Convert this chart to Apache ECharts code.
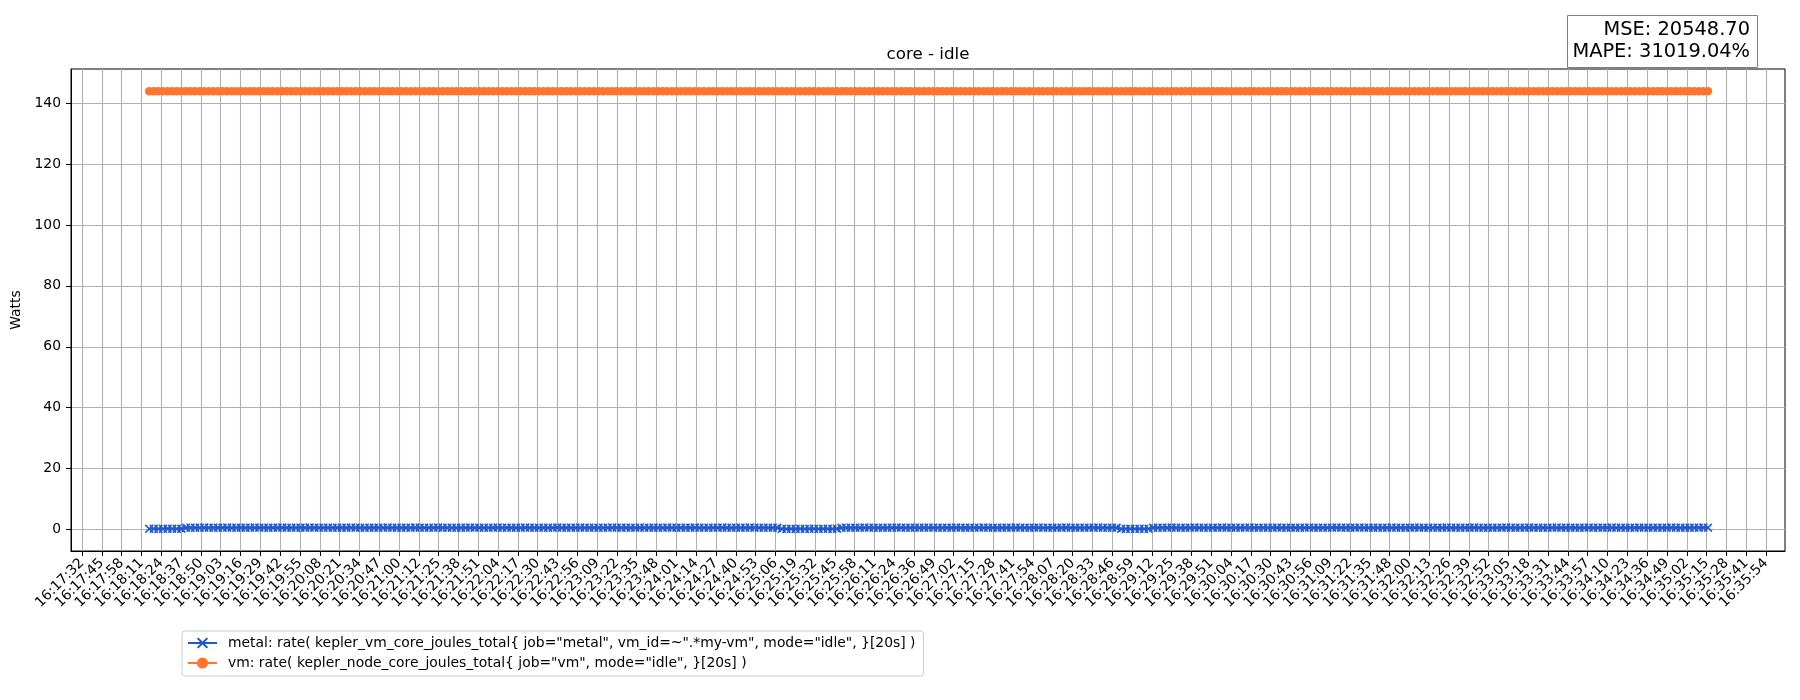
<!DOCTYPE html>
<html>
<head>
<meta charset="utf-8">
<title>core - idle</title>
<script src="https://cdn.jsdelivr.net/npm/echarts@6/dist/echarts.min.js"></script>
<style>
  html, body { margin: 0; padding: 0; background: #fff; }
  #chart { width: 1800px; height: 700px; }
</style>
</head>
<body>
<div id="chart"></div>
<script>
// tick labels along the time axis (evenly spaced)
const tickLabels = [
  '16:17:32','16:17:45','16:17:58','16:18:11','16:18:24','16:18:37','16:18:50','16:19:03','16:19:16','16:19:29',
  '16:19:42','16:19:55','16:20:08','16:20:21','16:20:34','16:20:47','16:21:00','16:21:12','16:21:25','16:21:38',
  '16:21:51','16:22:04','16:22:17','16:22:30','16:22:43','16:22:56','16:23:09','16:23:22','16:23:35','16:23:48',
  '16:24:01','16:24:14','16:24:27','16:24:40','16:24:53','16:25:06','16:25:19','16:25:32','16:25:45','16:25:58',
  '16:26:11','16:26:24','16:26:36','16:26:49','16:27:02','16:27:15','16:27:28','16:27:41','16:27:54','16:28:07',
  '16:28:20','16:28:33','16:28:46','16:28:59','16:29:12','16:29:25','16:29:38','16:29:51','16:30:04','16:30:17',
  '16:30:30','16:30:43','16:30:56','16:31:09','16:31:22','16:31:35','16:31:48','16:32:00','16:32:13','16:32:26',
  '16:32:39','16:32:52','16:33:05','16:33:18','16:33:31','16:33:44','16:33:57','16:34:10','16:34:23','16:34:36',
  '16:34:49','16:35:02','16:35:15','16:35:28','16:35:41','16:35:54'
];
const yTicks = [0, 20, 40, 60, 80, 100, 120, 140];

// samples: first sample time and sampling step (seconds)
const sampleStart = '16:18:16';
const sampleStep = 3;

const metalWatts = [
  0.21, 0.23, 0.2, 0.22, 0.24, 0.21, 0.23, 0.25, 0.58, 0.61, 0.6, 0.59, 0.62, 0.6, 0.61, 0.59, 0.6, 0.62, 0.61, 0.6,
  0.59, 0.61, 0.6, 0.62, 0.6, 0.59, 0.61, 0.6, 0.6, 0.62, 0.61, 0.59, 0.6, 0.61, 0.6, 0.62, 0.6, 0.59, 0.61, 0.6,
  0.61, 0.6, 0.59, 0.6, 0.62, 0.61, 0.6, 0.59, 0.61, 0.6, 0.6, 0.61, 0.62, 0.6, 0.59, 0.6, 0.61, 0.6, 0.62, 0.61,
  0.6, 0.59, 0.61, 0.62, 0.6, 0.6, 0.61, 0.59, 0.6, 0.61, 0.62, 0.6, 0.59, 0.61, 0.6, 0.6, 0.62, 0.61, 0.6, 0.59,
  0.61, 0.6, 0.62, 0.6, 0.59, 0.61, 0.6, 0.61, 0.6, 0.62, 0.59, 0.6, 0.61, 0.6, 0.62, 0.6, 0.61, 0.59, 0.6, 0.61,
  0.6, 0.62, 0.61, 0.6, 0.59, 0.6, 0.61, 0.62, 0.6, 0.59, 0.61, 0.6, 0.6, 0.62, 0.61, 0.59, 0.6, 0.61, 0.6, 0.62,
  0.61, 0.6, 0.59, 0.61, 0.6, 0.62, 0.6, 0.61, 0.59, 0.6, 0.61, 0.62, 0.6, 0.6, 0.59, 0.61, 0.6, 0.58, 0.21, 0.2,
  0.22, 0.19, 0.21, 0.2, 0.23, 0.21, 0.2, 0.22, 0.21, 0.2, 0.24, 0.58, 0.6, 0.61, 0.6, 0.59, 0.62, 0.6, 0.61, 0.6,
  0.59, 0.61, 0.6, 0.62, 0.6, 0.61, 0.59, 0.6, 0.61, 0.6, 0.62, 0.6, 0.59, 0.61, 0.6, 0.6, 0.62, 0.61, 0.6, 0.59,
  0.6, 0.61, 0.62, 0.6, 0.59, 0.61, 0.6, 0.61, 0.6, 0.62, 0.59, 0.6, 0.61, 0.6, 0.62, 0.61, 0.6, 0.59, 0.61, 0.6,
  0.62, 0.6, 0.61, 0.59, 0.6, 0.61, 0.6, 0.62, 0.6, 0.61, 0.59, 0.57, 0.22, 0.2, 0.21, 0.19, 0.22, 0.2, 0.23, 0.58,
  0.6, 0.61, 0.6, 0.62, 0.59, 0.6, 0.61, 0.6, 0.62, 0.6, 0.61, 0.59, 0.6, 0.61, 0.62, 0.6, 0.59, 0.61, 0.6, 0.6,
  0.62, 0.61, 0.6, 0.59, 0.61, 0.6, 0.62, 0.6, 0.61, 0.59, 0.6, 0.61, 0.6, 0.62, 0.6, 0.59, 0.61, 0.6, 0.61, 0.62,
  0.6, 0.59, 0.6, 0.61, 0.62, 0.6, 0.61, 0.6, 0.59, 0.61, 0.6, 0.62, 0.6, 0.61, 0.59, 0.6, 0.62, 0.61, 0.6, 0.59,
  0.61, 0.6, 0.6, 0.62, 0.61, 0.59, 0.6, 0.61, 0.6, 0.62, 0.6, 0.61, 0.59, 0.6, 0.61, 0.6, 0.62, 0.6, 0.59, 0.61,
  0.6, 0.62, 0.61, 0.6, 0.59, 0.6, 0.61, 0.62, 0.6, 0.59, 0.61, 0.6, 0.61, 0.6, 0.62, 0.59, 0.6, 0.61, 0.6, 0.62,
  0.61, 0.6, 0.59, 0.61, 0.6, 0.62, 0.6, 0.61, 0.59, 0.6, 0.61, 0.6, 0.62, 0.6, 0.59, 0.61, 0.6, 0.61, 0.6, 0.62,
  0.6
];

const vmWatts = [
  143.9, 143.9, 143.9, 143.9, 143.9, 143.9, 143.9, 143.9, 143.9, 143.9, 143.9, 143.9, 143.9, 143.9, 143.9, 143.9, 143.9, 143.9, 143.9, 143.9,
  143.9, 143.9, 143.9, 143.9, 143.9, 143.9, 143.9, 143.9, 143.9, 143.9, 143.9, 143.9, 143.9, 143.9, 143.9, 143.9, 143.9, 143.9, 143.9, 143.9,
  143.9, 143.9, 143.9, 143.9, 143.9, 143.9, 143.9, 143.9, 143.9, 143.9, 143.9, 143.9, 143.9, 143.9, 143.9, 143.9, 143.9, 143.9, 143.9, 143.9,
  143.9, 143.9, 143.9, 143.9, 143.9, 143.9, 143.9, 143.9, 143.9, 143.9, 143.9, 143.9, 143.9, 143.9, 143.9, 143.9, 143.9, 143.9, 143.9, 143.9,
  143.9, 143.9, 143.9, 143.9, 143.9, 143.9, 143.9, 143.9, 143.9, 143.9, 143.9, 143.9, 143.9, 143.9, 143.9, 143.9, 143.9, 143.9, 143.9, 143.9,
  143.9, 143.9, 143.9, 143.9, 143.9, 143.9, 143.9, 143.9, 143.9, 143.9, 143.9, 143.9, 143.9, 143.9, 143.9, 143.9, 143.9, 143.9, 143.9, 143.9,
  143.9, 143.9, 143.9, 143.9, 143.9, 143.9, 143.9, 143.9, 143.9, 143.9, 143.9, 143.9, 143.9, 143.9, 143.9, 143.9, 143.9, 143.9, 143.9, 143.9,
  143.9, 143.9, 143.9, 143.9, 143.9, 143.9, 143.9, 143.9, 143.9, 143.9, 143.9, 143.9, 143.9, 143.9, 143.9, 143.9, 143.9, 143.9, 143.9, 143.9,
  143.9, 143.9, 143.9, 143.9, 143.9, 143.9, 143.9, 143.9, 143.9, 143.9, 143.9, 143.9, 143.9, 143.9, 143.9, 143.9, 143.9, 143.9, 143.9, 143.9,
  143.9, 143.9, 143.9, 143.9, 143.9, 143.9, 143.9, 143.9, 143.9, 143.9, 143.9, 143.9, 143.9, 143.9, 143.9, 143.9, 143.9, 143.9, 143.9, 143.9,
  143.9, 143.9, 143.9, 143.9, 143.9, 143.9, 143.9, 143.9, 143.9, 143.9, 143.9, 143.9, 143.9, 143.9, 143.9, 143.9, 143.9, 143.9, 143.9, 143.9,
  143.9, 143.9, 143.9, 143.9, 143.9, 143.9, 143.9, 143.9, 143.9, 143.9, 143.9, 143.9, 143.9, 143.9, 143.9, 143.9, 143.9, 143.9, 143.9, 143.9,
  143.9, 143.9, 143.9, 143.9, 143.9, 143.9, 143.9, 143.9, 143.9, 143.9, 143.9, 143.9, 143.9, 143.9, 143.9, 143.9, 143.9, 143.9, 143.9, 143.9,
  143.9, 143.9, 143.9, 143.9, 143.9, 143.9, 143.9, 143.9, 143.9, 143.9, 143.9, 143.9, 143.9, 143.9, 143.9, 143.9, 143.9, 143.9, 143.9, 143.9,
  143.9, 143.9, 143.9, 143.9, 143.9, 143.9, 143.9, 143.9, 143.9, 143.9, 143.9, 143.9, 143.9, 143.9, 143.9, 143.9, 143.9, 143.9, 143.9, 143.9,
  143.9, 143.9, 143.9, 143.9, 143.9, 143.9, 143.9, 143.9, 143.9, 143.9, 143.9, 143.9, 143.9, 143.9, 143.9, 143.9, 143.9, 143.9, 143.9, 143.9,
  143.9, 143.9, 143.9, 143.9, 143.9, 143.9, 143.9, 143.9, 143.9, 143.9, 143.9, 143.9, 143.9, 143.9, 143.9, 143.9, 143.9, 143.9, 143.9, 143.9,
  143.9
];

const metalName = 'metal: rate( kepler_vm_core_joules_total{ job="metal", vm_id=~".*my-vm", mode="idle", }[20s] )';
const vmName = 'vm: rate( kepler_node_core_joules_total{ job="vm", mode="idle", }[20s] )';

function toSec(s) {
  const p = s.split(':').map(Number);
  return p[0] * 3600 + p[1] * 60 + p[2];
}

const firstTick = toSec(tickLabels[0]);
const lastTick = toSec(tickLabels[tickLabels.length - 1]);
const tickStep = (lastTick - firstTick) / (tickLabels.length - 1);
const tickValues = tickLabels.map((_, i) => firstTick + i * tickStep);

const t0 = toSec(sampleStart);
const metalData = metalWatts.map((v, i) => [t0 + i * sampleStep, v]);
const vmData = vmWatts.map((v, i) => [t0 + i * sampleStep, v]);

const font = 'DejaVu Sans';
const crossPath = 'path://M0,1.3L1.3,0L5,3.7L8.7,0L10,1.3L6.3,5L10,8.7L8.7,10L5,6.3L1.3,10L0,8.7L3.7,5Z';

const chart = echarts.init(document.getElementById('chart'));

chart.setOption({
  animation: false,
  backgroundColor: '#fff',
  textStyle: { fontFamily: font },
  grid: {
    left: 71, right: 15, top: 69, bottom: 149,
    show: true, borderColor: '#000', borderWidth: 1
  },
  xAxis: {
    type: 'value',
    min: firstTick - 7.2,
    max: lastTick + 12.4,
    axisLine: { show: true, onZero: false, lineStyle: { color: '#000', width: 1 } },
    axisTick: { show: true, length: 5, lineStyle: { color: '#000' }, customValues: tickValues },
    axisLabel: {
      customValues: tickValues,
      rotate: 45,
      margin: 10,
      fontSize: 13.9,
      color: '#000',
      fontFamily: font,
      formatter: v => tickLabels[Math.round((v - firstTick) / tickStep)]
    },
    splitLine: { show: true, lineStyle: { color: '#b0b0b0', width: 1.1 } }
  },
  yAxis: {
    type: 'value',
    min: -7.06,
    max: 151.2,
    name: 'Watts',
    nameLocation: 'middle',
    nameGap: 40,
    nameTextStyle: { fontSize: 13.9, color: '#000', fontFamily: font },
    axisLine: { show: true, lineStyle: { color: '#000', width: 1 } },
    axisTick: { show: true, length: 5, lineStyle: { color: '#000' }, customValues: yTicks },
    axisLabel: { customValues: yTicks, margin: 10, fontSize: 13.9, color: '#000', fontFamily: font },
    splitLine: { show: true, lineStyle: { color: '#b0b0b0', width: 1.1 } }
  },
  legend: {
    orient: 'vertical',
    left: 182,
    top: 631,
    padding: [5, 8, 6, 5],
    itemWidth: 29,
    itemHeight: 14,
    itemGap: 6,
    borderColor: '#cccccc',
    borderWidth: 1,
    borderRadius: 3,
    backgroundColor: '#fff',
    textStyle: { fontSize: 13.9, color: '#000', fontFamily: font, padding: [0, 0, 0, 6] },
    data: [metalName, vmName]
  },
  graphic: [
    {
      type: 'text',
      x: 928, y: 63,
      style: { text: 'core - idle', font: '16.7px "DejaVu Sans"', fill: '#000', textAlign: 'center', textVerticalAlign: 'bottom' }
    },
    {
      type: 'rect',
      shape: { x: 1567.5, y: 15.5, width: 190, height: 52 },
      style: { fill: '#fff', stroke: '#808080', lineWidth: 1 }
    },
    {
      type: 'text',
      x: 1750, y: 41,
      style: {
        text: 'MSE: 20548.70\nMAPE: 31019.04%',
        font: '19.4px "DejaVu Sans"', lineHeight: 22, fill: '#000',
        textAlign: 'right', textVerticalAlign: 'middle'
      }
    }
  ],
  series: [
    {
      name: metalName,
      type: 'line',
      data: metalData,
      symbol: crossPath,
      symbolSize: 9,
      showAllSymbol: true,
      color: '#1f58cf',
      lineStyle: { width: 2, color: '#1f58cf' },
      itemStyle: { color: '#1f58cf' }
    },
    {
      name: vmName,
      type: 'line',
      data: vmData,
      symbol: 'circle',
      symbolSize: 8.5,
      showAllSymbol: true,
      color: '#ff7530',
      lineStyle: { width: 2, color: '#ff7530' },
      itemStyle: { color: '#ff7530' }
    }
  ]
});
</script>
</body>
</html>
